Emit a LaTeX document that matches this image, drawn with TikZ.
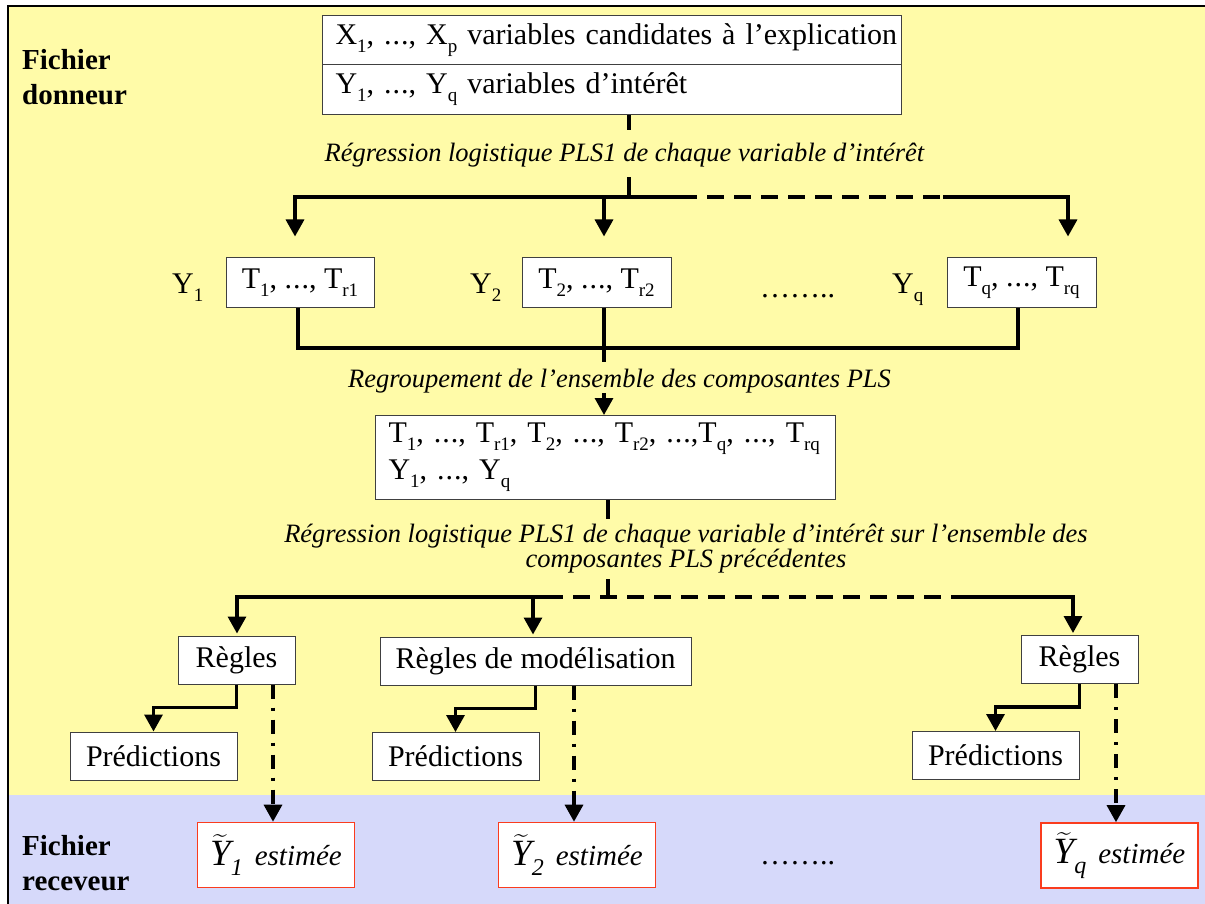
\documentclass[tikz,border=0pt]{standalone}
\usepackage{exscale}
\usepackage{fontspec}
\setmainfont{Liberation Serif}
\usetikzlibrary{arrows.meta}
\definecolor{bgyellow}{RGB}{255,251,168}
\definecolor{bgblue}{RGB}{214,217,250}
\definecolor{boxred}{RGB}{250,60,30}
\newcommand{\sbs}[1]{\raisebox{-8pt}{\fontsize{19}{19}\selectfont #1}}
\newcommand{\ysub}[1]{\raisebox{-10pt}{\fontsize{24}{24}\selectfont\itshape #1}}
\newcommand{\el}{.\kern1pt.\kern1pt.}
\begin{document}
\begin{tikzpicture}[x=1pt,y=-1pt,
  every node/.style={font=\fontsize{30}{37}\selectfont},
  box/.style={draw=black!75,line width=1pt,fill=white,inner sep=0pt,minimum height=49pt},
  redbox/.style={draw=boxred,line width=1.6pt,fill=white,inner sep=0pt,minimum width=157pt,minimum height=65pt},
  lab/.style={font=\fontsize{26.5}{24}\selectfont\itshape,fill=bgyellow,inner xsep=2pt},
  side/.style={font=\fontsize{29}{35}\selectfont\bfseries,align=left,inner sep=0pt,anchor=north west},
  conn/.style={line width=3.3pt},
  arr/.style={conn,-{Triangle[width=18pt,length=17pt]}},
  dsh/.style={conn,dash pattern=on 17pt off 10pt},
  dshdot/.style={line width=3.3pt,dash pattern=on 14pt off 9pt on 3pt off 9pt,-{Triangle[width=18pt,length=17pt]}},
]
\useasboundingbox (0,0) rectangle (1205,904);
\fill[bgyellow] (8,6) rectangle (1205,795);
\fill[bgblue] (8,795) rectangle (1205,904);
\draw[line width=2.5pt] (8,904) -- (8,6) -- (1205,6);

% side titles
\node[side] (don) at (22,49) {Fichier\\donneur};
\node[side] (rec) at (22,835) {Fichier\\receveur};

% top boxes
\node[box,anchor=north west,text width=553pt,inner xsep=13pt,minimum height=49pt,align=left] (X) at (322,15) {\mbox{X\sbs{1}, \el, X\sbs{p} variables candidates à l’explication}};
\node[box,anchor=north west,text width=553pt,inner xsep=13pt,minimum height=50pt,align=left] (Y) at (322,64) {\mbox{Y\sbs{1}, \el, Y\sbs{q} variables d’intérêt}};

% T row
\node[anchor=base west,inner sep=0pt] (Y1l) at (172,294) {Y\sbs{1}};
\node[anchor=base west,inner sep=0pt] (Y2l) at (470,294) {Y\sbs{2}};
\node[anchor=base west,inner sep=0pt] (Yql) at (892,294) {Y\sbs{q}};
\node[anchor=base west,inner sep=0pt] (dots1) at (760,297) {……..};
\node[box,minimum width=148pt] (T1) at (300,282.5) {T\sbs{1}, \el, T\sbs{r1}};
\node[box,minimum width=149pt] (T2) at (596.5,282.5) {T\sbs{2}, \el, T\sbs{r2}};
\node[box,minimum width=149pt] (Tq) at (1021.5,282.5) {T\sbs{q}, \el, T\sbs{rq}};

% merged box
\node[box,anchor=north west,text width=434pt,inner xsep=13pt,minimum height=84pt,align=left] (M) at (375,415) {\mbox{T\sbs{1}, \el, T\sbs{r1}, T\sbs{2}, \el, T\sbs{r2}, \el,T\sbs{q}, \el, T\sbs{rq}}\\\mbox{Y\sbs{1}, \el, Y\sbs{q}}};

% rules
\node[box,minimum width=117pt,minimum height=48pt] (R1) at (236.5,660) {Règles};
\node[box,minimum width=311pt,minimum height=48pt] (R2) at (535.5,661) {Règles de modélisation};
\node[box,minimum width=117pt,minimum height=48pt] (R3) at (1079.5,659.5) {Règles};
\node[box,minimum width=167pt,minimum height=48pt] (P1) at (153.5,756) {Prédictions};
\node[box,minimum width=167pt,minimum height=48pt] (P2) at (455.5,756.5) {Prédictions};
\node[box,minimum width=167pt,minimum height=48pt] (P3) at (995.5,755.5) {Prédictions};

% estimates
\node[redbox] (E1) at (276,855) {\fontsize{37}{37}\selectfont$\widetilde{\mbox{\itshape Y}}$\ysub{1}\hspace{12pt}{\fontsize{29}{29}\selectfont\itshape estimée}};
\node[redbox] (E2) at (577,855) {\fontsize{37}{37}\selectfont$\widetilde{\mbox{\itshape Y}}$\ysub{2}\hspace{12pt}{\fontsize{29}{29}\selectfont\itshape estimée}};
\node[redbox] (E3) at (1119.5,855.5) {\fontsize{37}{37}\selectfont$\widetilde{\mbox{\itshape Y}}$\ysub{q}\hspace{12pt}{\fontsize{29}{29}\selectfont\itshape estimée}};
\node[anchor=base west,inner sep=0pt] (dots2) at (760,864) {……..};

% coordinates
\coordinate (s1) at (629,197);
\coordinate (b1L) at (295,197);
\coordinate (b1A) at (680,197);
\coordinate (b1B) at (943,197);
\coordinate (b1R) at (1068,197);
\coordinate (b1M) at (604,197);
\coordinate (b2L) at (298,348);
\coordinate (b2R) at (1018,348);
\coordinate (b2M) at (604,348);
\coordinate (s3) at (608,597);
\coordinate (b3L) at (237,597);
\coordinate (b3A) at (546,597);
\coordinate (b3B) at (957,597);
\coordinate (b3R) at (1073,597);
\coordinate (b3M) at (533,597);
\coordinate (d1) at (273,0);
\coordinate (d2) at (574,0);
\coordinate (d3) at (1116,0);

% first split
\draw[conn] (Y.south -| s1) -- (s1);
\draw[arr,shorten >=21pt] (b1A) -- (b1L) -- (T1.north -| b1L);
\draw[dsh] (b1A) -- (b1B);
\draw[arr,shorten >=21pt] (b1B) -- (b1R) -- (Tq.north -| b1R);
\draw[arr,shorten >=21pt] (b1M) -- (T2.north -| b1M);

% merge
\draw[conn] (T1.south -| b2L) -- (b2L) -- (b2R) -- (Tq.south -| b2R);
\draw[arr] (T2.south -| b2M) -- (M.north -| b2M);

% second split
\draw[conn] (M.south -| s3) -- (s3);
\draw[arr,shorten >=2pt] (b3A) -- (b3L) -- (R1.north -| b3L);
\draw[dsh] (b3A) -- (b3B);
\draw[arr,shorten >=2pt] (b3B) -- (b3R) -- (R3.north -| b3R);
\draw[arr,shorten >=2pt] (b3M) -- (R2.north -| b3M);

% rules to predictions
\draw[arr] (R1.south) -- ++(0,23) -| (P1.north);
\draw[arr] (R2.south) -- ++(0,23) -| (P2.north);
\draw[arr] (R3.south) -- ++(0,23) -| (P3.north);

% rules to estimates
\draw[dshdot] (R1.south -| d1) -- (E1.north -| d1);
\draw[dshdot] (R2.south -| d2) -- (E2.north -| d2);
\draw[dshdot] (R3.south -| d3) -- (E3.north -| d3);

% labels
\node[lab,anchor=base,text height=32pt,text depth=15pt,inner ysep=0pt] (L1) at (624.5,162) {Régression logistique PLS1 de chaque variable d’intérêt};
\node[lab,anchor=base,text height=25pt,text depth=6pt,inner ysep=0pt] (L2) at (619.5,387) {Regroupement de l’ensemble des composantes PLS};
\node[lab,align=center,inner ysep=5pt] (L3) at (686,549) {Régression logistique PLS1 de chaque variable d’intérêt sur l’ensemble des\\composantes PLS précédentes};
\end{tikzpicture}
\end{document}
